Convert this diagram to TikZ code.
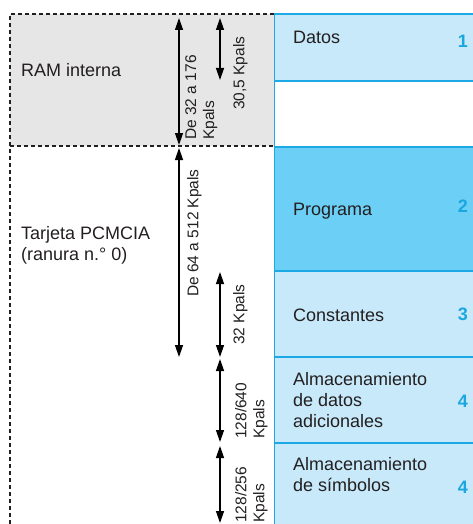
\documentclass[tikz,border=0pt]{standalone}
\usepackage{fontspec}
\setmainfont{Liberation Sans}
\usetikzlibrary{arrows.meta}

\definecolor{memlight}{HTML}{C7E9F9}
\definecolor{memdark}{HTML}{6CCFF6}
\definecolor{memline}{HTML}{1CA9E6}
\definecolor{memnum}{HTML}{1AA7E0}
\definecolor{ramgray}{HTML}{E6E6E6}
\definecolor{inktext}{HTML}{231F20}

\tikzset{
  zone/.style={draw=memline, line width=1.2pt},
  limit/.style={draw=inktext, line width=1.2pt, dash pattern=on 4pt off 3pt},
  memtxt/.style={anchor=base west, inner sep=0pt, align=left, text=inktext,
    font=\fontsize{18}{20.8}\selectfont},
  numtxt/.style={anchor=base east, inner sep=0pt, text=memnum,
    font=\fontsize{18}{20}\selectfont\bfseries},
  sizetxt/.style={rotate=90, anchor=north west, inner sep=0pt, align=left,
    text=inktext, font=\fontsize{15.5}{18}\selectfont},
  sizearrow/.style={{Triangle[length=12pt,width=8pt]}-{Triangle[length=12pt,width=8pt]},
    line width=1.3pt, draw=black}
}

\begin{document}
\begin{tikzpicture}[x=1pt, y=-1pt]
  \useasboundingbox (0,0) rectangle (472,524);

  % RAM interna y tarjeta PCMCIA
  \fill[ramgray] (10,14) rectangle (274,146);
  \draw[limit] (274,14) -- (10,14) -- (10,530);
  \draw[limit] (10,146) -- (274,146);

  % zonas de memoria
  \foreach \ya/\yb/\col in {14/81/memlight, 81/147/white, 147/271/memdark,
      271/357/memlight, 357/443/memlight, 443/530/memlight}
    \draw[zone, fill=\col] (274.5,\ya) rectangle (480,\yb);

  % (varias lineas: base = ultima linea)
  \node[memtxt] (ram) at (21,77) {RAM interna};
  \node[memtxt] (pcmcia) at (21,260) {Tarjeta PCMCIA\\(ranura n.° 0)};

  \node[memtxt] (datos) at (293,44) {Datos};
  \node[memtxt] (prog) at (293,215) {Programa};
  \node[memtxt] (const) at (293,321) {Constantes};
  \node[memtxt] (adic) at (293,427) {Almacenamiento\\de datos\\adicionales};
  \node[memtxt] (simb) at (293,491) {Almacenamiento\\de símbolos};

  \node[numtxt] (n1) at (468,48) {1};
  \node[numtxt] (n2) at (468,212) {2};
  \node[numtxt] (n3) at (468,320) {3};
  \node[numtxt] (n4a) at (468,407) {4};
  \node[numtxt] (n4b) at (468,493) {4};

  % cotas
  \foreach \n/\x/\ya/\yb in {1/179/18/145, 2/220/18/80, 3/179/148/357,
      4/220/272/357, 5/220/359/442, 6/220/446/523} {
    \coordinate (s\n t) at (\x,\ya);
    \coordinate (s\n b) at (\x,\yb);
    \draw[sizearrow] (s\n t) -- (s\n b);
  }

  \node[sizetxt] (k1) at (185,140) {De 32 a 176\\Kpals};
  \node[sizetxt] (k2) at (233,110) {30,5 Kpals};
  \node[sizetxt] (k3) at (187,297) {De 64 a 512 Kpals};
  \node[sizetxt] (k4) at (233,345) {32 Kpals};
  \node[sizetxt] (k5) at (235,439) {128/640\\Kpals};
  \node[sizetxt] (k6) at (235,523) {128/256\\Kpals};
\end{tikzpicture}
\end{document}
